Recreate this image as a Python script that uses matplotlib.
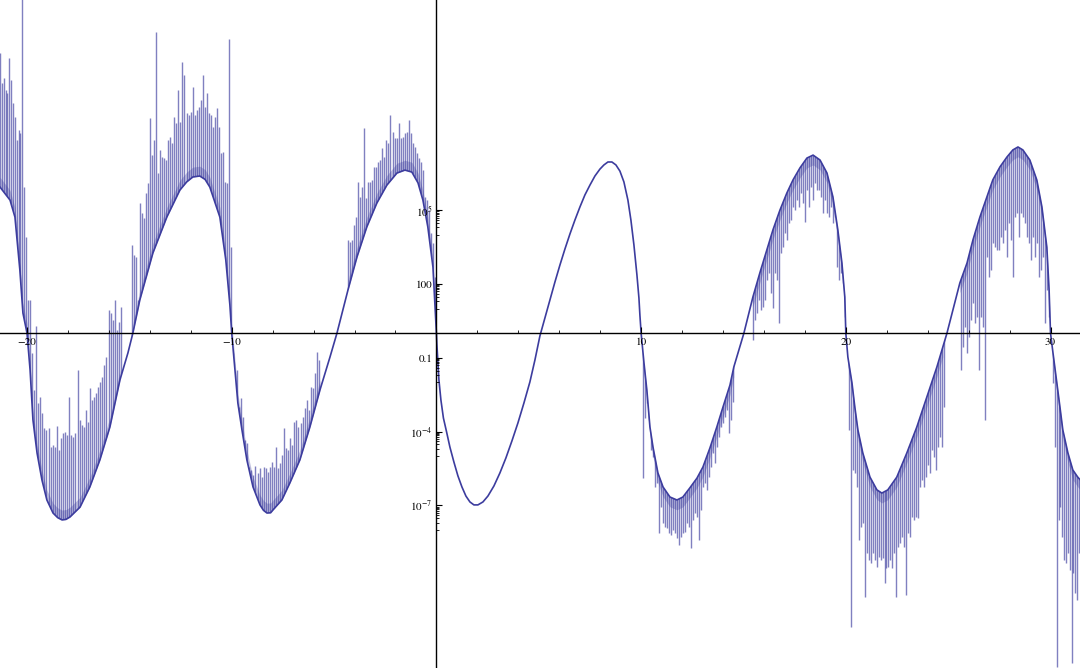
import numpy as np
import matplotlib
matplotlib.use("Agg")
import matplotlib.pyplot as plt
from matplotlib.path import Path

# ---------------- data (x, log10 y) ----------------
base_x = [-21.32, -20.83, -20.59, -20.35, -20.20, -20.0,
          -19.85, -19.71, -19.51, -19.27, -19.03, -18.73, -18.50, -18.29, -18.10, -17.90, -17.41,
          -16.93, -16.44, -15.95, -15.46, -15.07, -14.83,
          -14.49, -13.85, -13.17, -12.53, -12.20, -11.90, -11.56, -11.30, -11.07, -10.58, -10.29, -10.09, -10.0,
          -9.84, -9.70, -9.50, -9.26, -8.96, -8.62, -8.45, -8.28, -8.10, -7.99, -7.55, -7.16, -6.67,
          -6.18, -5.69, -5.20, -4.86,
          -4.32, -3.88, -3.40, -2.91, -2.42, -1.93, -1.54, -1.20, -0.90, -0.66, -0.42, -0.17, 0.0,
          0.024, 0.059, 0.122, 0.220, 0.342, 0.498, 0.659, 0.855, 1.050, 1.246, 1.441, 1.637,
          1.832, 2.027, 2.272, 2.516, 2.809, 3.102, 3.395, 3.688, 3.981, 4.274, 4.567, 4.812,
          5.056, 5.300, 5.544, 5.789, 6.033, 6.277, 6.521, 6.766, 7.010, 7.254, 7.499, 7.743,
          7.987, 8.183, 8.378, 8.573, 8.769, 8.964, 9.159, 9.355, 9.501, 9.648, 9.795, 9.893,
          9.94, 10.0,
          10.14, 10.28, 10.43, 10.58, 10.82, 11.07, 11.41, 11.75, 12.04, 12.38, 12.73, 13.02,
          13.36, 13.70, 14.00, 14.34, 14.53, 15.02,
          15.46, 15.80, 16.14, 16.44, 16.78, 17.12, 17.42, 17.76, 18.10, 18.40, 18.74, 19.08,
          19.37, 19.61, 19.81, 19.95, 20.0,
          20.10, 20.30, 20.44, 20.59, 20.83, 21.18, 21.52, 21.76, 22.05, 22.49, 22.98, 23.47,
          23.96, 24.45, 24.74, 24.94,
          25.57, 25.92, 26.21, 26.55, 26.89, 27.18, 27.53, 27.87, 28.16, 28.41, 28.65, 28.99,
          29.33, 29.58, 29.82, 29.93, 30.0,
          30.12, 30.31, 30.46, 30.60, 30.85, 31.09, 31.33, 31.44]
base_log = [5.94, 5.41, 4.72, 2.57, 0.82, 0.0,
            -1.50, -3.53, -4.87, -5.97, -6.78, -7.31, -7.50, -7.59, -7.57, -7.47, -7.07,
            -6.25, -5.15, -3.81, -1.90, -0.80, 0.0,
            1.35, 3.26, 4.72, 5.82, 6.15, 6.35, 6.39, 6.25, 5.94, 4.72, 2.98, 1.15, 0.0,
            -1.50, -2.84, -3.93, -5.15, -6.25, -6.98, -7.20, -7.31, -7.30, -7.19, -6.78, -6.09, -5.15,
            -3.81, -2.31, -0.97, 0.0,
            1.76, 3.10, 4.32, 5.29, 6.02, 6.51, 6.63, 6.55, 6.11, 5.41, 4.32, 2.69, 0.0,
            -0.48, -1.01, -1.90, -2.72, -3.45, -4.02, -4.63, -5.24, -5.80, -6.25, -6.62, -6.86,
            -6.98, -6.98, -6.86, -6.62, -6.21, -5.68, -5.07, -4.38, -3.65, -2.84, -1.98, -1.09,
            -0.11, 0.62, 1.35, 2.08, 2.77, 3.42, 4.03, 4.60, 5.13, 5.62, 6.02, 6.39,
            6.67, 6.84, 6.96, 6.96, 6.84, 6.59, 6.15, 5.41, 4.60, 3.59, 2.37, 1.43,
            0.74, 0.0,
            -1.21, -2.31, -3.81, -4.63, -5.68, -6.25, -6.66, -6.78, -6.66, -6.29, -5.89, -5.44,
            -4.67, -3.81, -3.00, -2.11, -1.37, 0.0,
            1.47, 2.45, 3.38, 4.20, 5.00, 5.70, 6.23, 6.72, 7.12, 7.24, 7.04, 6.51,
            5.54, 4.20, 2.85, 1.47, 0.0,
            -0.97, -2.02, -3.00, -3.93, -4.87, -5.85, -6.37, -6.50, -6.37, -5.85, -4.87, -3.81,
            -2.59, -1.37, -0.56, 0.0,
            2.04, 2.85, 3.79, 4.72, 5.54, 6.23, 6.76, 7.16, 7.45, 7.57, 7.45, 7.04,
            6.23, 5.13, 3.50, 1.76, 0.0,
            -0.80, -2.02, -3.00, -3.93, -4.87, -5.56, -5.85, -5.95]

# spike bands: x range, direction, tip log10 values
band_x = [(-21.32, -20.05), (-19.96, -15.41), (-14.87, -10.04), (-9.94, -5.74),
          (-4.32, -0.07), (10.09, 14.48), (15.46, 19.96), (20.15, 24.79),
          (25.62, 30.02), (30.12, 31.39)]
band_dir = ["up", "up", "up", "up", "up", "down", "down", "down", "down", "down"]
tips_1 = [11.39, 10.17, 10.37, 9.89, 9.76, 11.19, 10.29, 9.36, 8.79, 7.85, 8.26, 8.14, 13.6, 5.94, 3.91]
tips_2 = [1.35, 1.35, -0.80, -2.31, 0.29, -2.84, -2.59, -3.24, -3.85, -3.93, -3.85, -4.63, -4.54,
          -4.63, -3.77, -4.75, -4.26, -4.06, -4.02, -4.14, -2.59, -4.14, -4.22, -4.06, -1.50,
          -3.53, -3.73, -3.81, -3.12, -3.61, -2.23, -2.72, -2.59, -2.43, -2.19, -1.98, -1.78,
          -1.29, -0.97, 0.94, 0.82, 0.54, 1.35, 0.13, 0.46, 1.07]
tips_3 = [3.59, 3.18, 3.10, 1.35, 5.29, 4.89, 4.68, 5.70, 6.11, 8.75, 7.24, 7.85, 12.24, 6.51,
          7.45, 7.16, 7.12, 7.04, 7.85, 7.98, 7.73, 8.79, 8.54, 9.89, 8.59, 11.02, 10.50, 8.95,
          8.87, 8.99, 10.01, 8.87, 9.07, 9.20, 9.48, 10.50, 9.20, 9.76, 8.95, 8.87, 8.38, 8.79,
          9.15, 8.38, 7.33, 7.37, 6.15, 6.11, 11.96, 3.50]
tips_4 = [-0.80, -1.90, -1.50, -3.00, -2.63, -3.41, -4.34, -4.46, -5.44, -5.56, -5.76, -5.40,
          -5.68, -5.48, -5.85, -5.44, -5.48, -5.64, -5.44, -5.24, -5.44, -4.63, -5.48, -5.28,
          -4.95, -3.85, -4.67, -4.75, -4.26, -4.54, -3.61, -3.53, -3.81, -3.65, -3.41, -3.04,
          -2.72, -3.12, -2.19, -2.23, -1.62, -0.76, -1.09]
tips_5 = [3.79, 3.71, 3.79, 4.40, 4.72, 6.15, 5.54, 5.94, 8.34, 5.50, 6.15, 6.15, 6.23, 6.76,
          6.76, 6.96, 7.04, 7.53, 7.16, 7.85, 7.73, 8.87, 8.18, 7.93, 7.93, 8.54, 7.93, 7.98,
          8.14, 8.18, 8.67, 8.14, 7.73, 7.57, 7.33, 7.12, 6.96, 6.63, 5.54, 5.41, 5.01, 4.07,
          3.67, 2.28]
tips_6 = [-5.89, -3.45, -2.84, -3.53, -4.75, -5.03, -6.25, -6.09, -8.12, -7.07, -7.72, -7.88,
          -7.92, -8.12, -8.20, -8.00, -8.12, -8.33, -8.61, -8.28, -8.12, -8.08, -7.72, -7.88,
          -8.73, -7.59, -7.31, -7.47, -8.41, -7.19, -6.25, -6.09, -6.37, -5.85, -5.44, -4.87,
          -5.28, -4.63, -4.22, -3.81, -3.65, -3.41, -3.12, -4.06, -3.53, -2.80]
tips_7 = [-0.28, 0.54, 0.82, 1.35, 0.94, 1.07, 1.35, 2.16, 2.45, 1.63, 1.02, 2.45, 2.16, 0.41,
          3.26, 3.50, 4.07, 3.79, 4.48, 4.60, 5.13, 5.01, 5.41, 5.13, 5.70, 5.29, 4.52, 5.82,
          5.13, 5.94, 5.41, 6.11, 5.82, 5.82, 5.54, 4.89, 5.41, 4.89, 4.72, 5.13, 4.48, 4.72,
          2.69, 2.16, 2.45, 2.04, 0.66]
tips_8 = [-3.93, -11.94, -5.56, -5.68, -6.25, -8.41, -7.88, -7.72, -10.72, -8.93, -9.22, -9.34,
          -8.93, -9.22, -9.50, -9.10, -9.22, -9.14, -10.15, -9.54, -9.50, -9.22, -9.54, -8.93,
          -10.72, -8.69, -8.53, -8.28, -8.69, -10.64, -8.12, -8.28, -7.47, -7.59, -7.47, -7.51,
          -6.25, -5.97, -6.25, -5.85, -5.36, -5.68, -4.75, -5.03, -5.56, -4.63, -4.22, -4.63, -3.00]
tips_9 = [-1.50, -0.56, 0.25, -0.80, -0.15, 0.54, 1.23, 0.41, 0.66, -1.50, 0.66, 0.25, -3.53,
          3.10, 2.28, 2.57, 3.67, 3.50, 3.38, 3.38, 3.91, 3.67, 4.20, 3.10, 4.48, 3.79, 2.28,
          4.72, 4.89, 3.91, 4.89, 4.72, 4.48, 3.91, 3.67, 2.98, 3.91, 3.10, 3.67, 2.28, 2.57,
          3.10, 0.41, 1.76, 0.66, 0.13]
tips_10 = [-2.02, -4.63, -13.57, -7.59, -7.07, -8.28, -9.22, -9.34, -8.93, -9.63, -13.41, -9.75,
           -10.56, -10.85, -8.93]
band_tips = [tips_1, tips_2, tips_3, tips_4, tips_5, tips_6, tips_7, tips_8, tips_9, tips_10]

x_major = [-20, -10, 10, 20, 30]
x_labels = ["\u221220", "\u221210", "10", "20", "30"]
y_major_exp = [5, 2, -1, -4, -7]
y_labels = [r"$10^{5}$", "100", "0.1", r"$10^{-4}$", r"$10^{-7}$"]

XLIM = (-21.32, 31.44)
YLIM_LOG = (-13.61, 13.545)

# ---------------- drawing ----------------
plt.rcParams["font.family"] = ["STIXGeneral", "DejaVu Serif"]
plt.rcParams["mathtext.fontset"] = "stix"

C = "#3c3c9e"
fig = plt.figure(figsize=(10.8, 6.68), dpi=100)
ax = fig.add_axes([0, 0, 1, 1])
ax.set_yscale("log")
ax.set_xlim(*XLIM)
BOT, TOP = 10 ** YLIM_LOG[0], 10 ** YLIM_LOG[1]
ax.set_ylim(BOT, TOP)

bx = np.array(base_x)
by = 10 ** np.array(base_log)
ax.plot(bx, by, color=C, lw=1.2, zorder=3, solid_joinstyle="round")

# clip regions: above the base curve for x<=0, below it for x>=10
mL = bx <= 0
vl = [(bx[mL][0], TOP * 10)] + list(zip(bx[mL], by[mL])) + [(bx[mL][-1], TOP * 10)]
clipL = Path(vl + [vl[0]], closed=True)
mR = bx >= 10
vr = [(bx[mR][0], BOT / 10)] + list(zip(bx[mR], by[mR])) + [(bx[mR][-1], BOT / 10)]
clipR = Path(vr + [vr[0]], closed=True)

DENSE = 10 ** 0.4  # width of the dense shading next to the curve (style)
for (x0, x1), d, tips in zip(band_x, band_dir, band_tips):
    xs = np.linspace(x0, x1, len(tips))
    ys = 10 ** np.array(tips)
    m = (bx >= x0 - 0.06) & (bx <= x1 + 0.06)
    if d == "up":
        lc = ax.vlines(xs, BOT / 10, ys, color=C, lw=1.0, alpha=0.65, zorder=2)
        lc.set_clip_path(clipL, ax.transData)
        ax.fill_between(bx[m], by[m], by[m] * DENSE, color=C, alpha=0.3, lw=0, zorder=2)
    else:
        lc = ax.vlines(xs, ys, TOP * 10, color=C, lw=1.0, alpha=0.65, zorder=2)
        lc.set_clip_path(clipR, ax.transData)
        ax.fill_between(bx[m], by[m] / DENSE, by[m], color=C, alpha=0.3, lw=0, zorder=2)

# axes through the origin (x axis at y = 1)
for s in ["top", "right"]:
    ax.spines[s].set_visible(False)
ax.spines["left"].set_position(("data", 0))
ax.spines["bottom"].set_position(("data", 1))
for s in ["left", "bottom"]:
    ax.spines[s].set_linewidth(1.0)
    ax.spines[s].set_zorder(4)
ax.xaxis.set_zorder(5)
ax.yaxis.set_zorder(5)

ax.set_xticks(x_major)
ax.set_xticklabels(x_labels)
ax.set_xticks([v for v in range(-20, 32, 2) if v % 10 != 0], minor=True)
ax.tick_params(axis="x", which="major", direction="in", length=4, width=0.8,
               labelsize=8, pad=3)
ax.tick_params(axis="x", which="minor", direction="in", length=2.5, width=0.6)

ymaj = [10.0 ** e for e in y_major_exp]
ax.set_yticks(ymaj)
ax.set_yticklabels(y_labels)
ymin = []
for e in y_major_exp:
    ymin += [m * 10.0 ** (e - 1) for m in range(2, 10)]
    ymin += [10.0 ** (e - 1)]
ax.set_yticks(ymin, minor=True)
ax.yaxis.set_minor_formatter(matplotlib.ticker.NullFormatter())
ax.tick_params(axis="y", which="major", direction="in", length=4, width=0.8,
               labelsize=8, pad=3)
ax.tick_params(axis="y", which="minor", direction="in", length=2.5, width=0.6)

fig.savefig("out.png", dpi=100)
